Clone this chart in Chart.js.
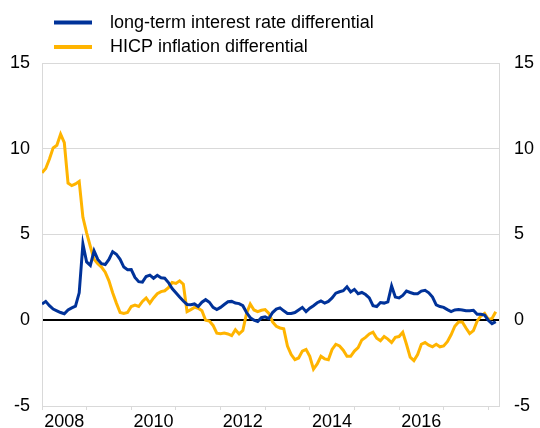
<!DOCTYPE html>
<html>
<head>
<meta charset="utf-8">
<script src="https://cdn.jsdelivr.net/npm/chart.js@4.4.1/dist/chart.umd.min.js"></script>
<style>
  html, body { margin: 0; padding: 0; background: #ffffff; }
  #wrap { width: 540px; height: 428px; position: relative; }
</style>
</head>
<body>
<div id="wrap"><canvas id="c" width="540" height="428"></canvas></div>
<script>
// ---- Data (monthly, Jan 2008 – Mar 2018) ----
const startYear = 2008;
const startMonth = 1;

const seriesNames = ['long-term interest rate differential', 'HICP inflation differential'];

const interestDiff = [
  0.95, 1.1, 0.85, 0.65, 0.55, 0.45, 0.38, 0.6, 0.72, 0.82, 1.6, 4.45,
  3.4, 3.2, 4.05, 3.55, 3.3, 3.25, 3.55, 4.0, 3.85, 3.55, 3.1, 2.95,
  2.96, 2.5, 2.25, 2.22, 2.55, 2.63, 2.45, 2.62, 2.48, 2.45, 2.2, 1.85,
  1.6, 1.35, 1.12, 0.92, 0.9, 0.95, 0.8, 1.05, 1.2, 1.05, 0.75, 0.62,
  0.75, 0.92, 1.08, 1.1, 1.0, 0.97, 0.85, 0.45, 0.15, 0.0, -0.08, 0.15,
  0.2, 0.1, 0.45, 0.65, 0.72, 0.55, 0.4, 0.4, 0.45, 0.6, 0.75, 0.5,
  0.7, 0.85, 1.02, 1.12, 1.0, 1.1, 1.3, 1.58, 1.66, 1.72, 1.95, 1.65,
  1.8, 1.55, 1.62, 1.5, 1.3, 0.85, 0.8, 1.03, 1.0, 1.07, 2.0, 1.35,
  1.3, 1.45, 1.7, 1.62, 1.55, 1.55, 1.7, 1.75, 1.6, 1.35, 0.9, 0.8,
  0.75, 0.62, 0.5, 0.6, 0.62, 0.6, 0.55, 0.55, 0.58, 0.35, 0.35, 0.3,
  0.0, -0.2, -0.08
];

const inflationDiff = [
  8.6, 8.85, 9.4, 10.05, 10.2, 10.85, 10.35, 8.0, 7.85, 7.95, 8.1, 6.0,
  5.1, 4.3, 3.55, 3.3, 3.1, 2.8, 2.3, 1.6, 1.0, 0.45, 0.4, 0.45,
  0.8, 0.88, 0.8, 1.1, 1.3, 1.0, 1.3, 1.55, 1.67, 1.72, 1.9, 2.2,
  2.15, 2.3, 2.1, 0.5, 0.62, 0.75, 0.7, 0.55, 0.0, -0.05, -0.3, -0.75,
  -0.78, -0.75, -0.8, -0.9, -0.55, -0.8, -0.6, 0.4, 0.95, 0.6, 0.5, 0.58,
  0.62, 0.4, -0.1, -0.35, -0.45, -0.5, -1.5, -2.0, -2.3, -2.2, -1.8, -1.7,
  -2.1, -2.85, -2.55, -2.1, -2.25, -2.3, -1.7, -1.4, -1.5, -1.75, -2.1, -2.1,
  -1.8, -1.6, -1.15, -1.0, -0.8, -0.7, -1.05, -1.2, -0.95, -1.1, -1.3, -1.0,
  -0.95, -0.7, -1.4, -2.15, -2.35, -2.0, -1.4, -1.3, -1.45, -1.55, -1.4, -1.55,
  -1.5, -1.25, -0.85, -0.35, -0.1, -0.1, -0.45, -0.78, -0.6, -0.05, 0.25, 0.4,
  0.05, 0.1, 0.5
];

const yearTicks = [2008, 2009, 2010, 2011, 2012, 2013, 2014, 2015, 2016, 2017, 2018];
const yearLabels = ['2008', '', '2010', '', '2012', '', '2014', '', '2016', '', ''];
const yTicks = [-5, 0, 5, 10, 15];

const axisMin = 2008;
const axisMax = 2018.24;

// month positions (decimal years) for each observation
const months = interestDiff.map((_, i) => startYear + (startMonth - 1 + i) / 12);

const blue = '#003299';
const yellow = '#FFB400';
const gridGrey = '#d9d9d9';
const FONT = "Arial, 'Liberation Sans', Helvetica, sans-serif";

const legendPlugin = {
  id: 'customLegend',
  afterDraw(chart) {
    const ctx = chart.ctx;
    ctx.save();
    const rows = [22.5, 47];
    chart.data.datasets.forEach((ds, i) => {
      const y = rows[i];
      ctx.strokeStyle = ds.borderColor;
      ctx.lineWidth = 4;
      ctx.lineCap = 'butt';
      ctx.beginPath();
      ctx.moveTo(54, y);
      ctx.lineTo(92, y);
      ctx.stroke();
      ctx.fillStyle = '#000';
      ctx.font = '18px ' + FONT;
      ctx.textBaseline = 'middle';
      ctx.textAlign = 'left';
      ctx.fillText(ds.label, 110, y + 0.5);
    });
    ctx.restore();
  }
};

function fixVertical(w) {
  return function (scale) {
    scale.width = w;
    scale.paddingTop = 0;
    scale.paddingBottom = 0;
  };
}

new Chart(document.getElementById('c'), {
  type: 'line',
  data: {
    datasets: [
      {
        label: seriesNames[0],
        data: months.map((m, i) => ({ x: m, y: interestDiff[i] })),
        borderColor: blue,
        backgroundColor: blue,
        borderWidth: 3,
        pointRadius: 0,
        tension: 0,
        yAxisID: 'y'
      },
      {
        label: seriesNames[1],
        data: months.map((m, i) => ({ x: m, y: inflationDiff[i] })),
        borderColor: yellow,
        backgroundColor: yellow,
        borderWidth: 3,
        pointRadius: 0,
        tension: 0,
        yAxisID: 'y'
      }
    ]
  },
  options: {
    responsive: false,
    animation: false,
    devicePixelRatio: 1,
    layout: { padding: { top: 63, bottom: 0, left: 0, right: 0 } },
    plugins: {
      legend: { display: false },
      tooltip: { enabled: false }
    },
    scales: {
      x: {
        type: 'linear',
        min: axisMin,
        max: axisMax,
        afterBuildTicks(scale) {
          const t = [];
          yearTicks.forEach(y => { t.push({ value: y }); if (y + 0.5 <= axisMax) t.push({ value: y + 0.5 }); });
          scale.ticks = t;
        },
        afterFit(scale) {
          scale.height = 22;
          scale.paddingLeft = 0;
          scale.paddingRight = 0;
        },
        ticks: {
          autoSkip: false,
          maxRotation: 0,
          padding: 1,
          color: '#000',
          font: { family: FONT, size: 18 },
          callback(value) {
            if (Number.isInteger(value)) return '';
            const idx = yearTicks.indexOf(Math.floor(value));
            return idx >= 0 ? yearLabels[idx] : '';
          }
        },
        grid: {
          drawOnChartArea: false,
          drawTicks: true,
          tickLength: 4,
          tickColor(ctx) {
            return Number.isInteger(ctx.tick && ctx.tick.value) ? gridGrey : 'rgba(0,0,0,0)';
          },
          lineWidth: 1
        },
        border: { display: true, color: gridGrey, width: 1 }
      },
      y: {
        type: 'linear',
        position: 'left',
        min: -5,
        max: 15,
        afterBuildTicks(scale) { scale.ticks = yTicks.map(v => ({ value: v })); },
        afterFit: fixVertical(42),
        ticks: {
          padding: 12,
          color: '#000',
          font: { family: FONT, size: 18 }
        },
        grid: {
          drawTicks: false,
          color(ctx) { return ctx.tick && ctx.tick.value === 0 ? '#000' : gridGrey; },
          lineWidth(ctx) { return ctx.tick && ctx.tick.value === 0 ? 2 : 1; }
        },
        border: { display: true, color: gridGrey, width: 1 }
      },
      y2: {
        type: 'linear',
        position: 'right',
        min: -5,
        max: 15,
        afterBuildTicks(scale) { scale.ticks = yTicks.map(v => ({ value: v })); },
        afterFit: fixVertical(41),
        ticks: {
          padding: 15,
          color: '#000',
          font: { family: FONT, size: 18 }
        },
        grid: { drawOnChartArea: false, drawTicks: false },
        border: { display: true, color: gridGrey, width: 1 }
      }
    }
  },
  plugins: [legendPlugin]
});
</script>
</body>
</html>
